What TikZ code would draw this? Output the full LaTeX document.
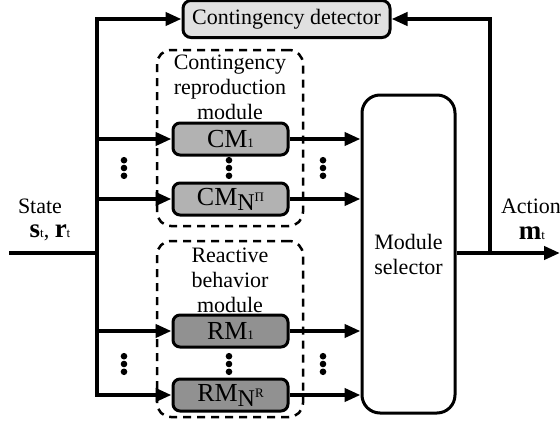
\documentclass[tikz,border=0pt]{standalone}
\usepackage{fontspec}
\setmainfont{Liberation Serif}
\usetikzlibrary{arrows.meta}

\newcommand{\smallidx}[1]{{\fontsize{13}{13}\selectfont #1}}
\newcommand{\bigidx}[2]{\raisebox{-5pt}{\fontsize{24}{24}\selectfont #1\raisebox{9pt}{\smallidx{#2}}}}
\newcommand{\boldvar}[1]{{\fontsize{27}{27}\selectfont\bfseries #1}}

\tikzset{
	modbox/.style={draw, line width=3pt, rounded corners=7pt, minimum width=115pt, minimum height=32pt, inner sep=0pt, font=\fontsize{26}{28}\selectfont},
	cmbox/.style={modbox, fill=black!30},
	rmbox/.style={modbox, fill=black!43},
	grpbox/.style={draw, line width=2.5pt, dash pattern=on 8pt off 6pt, rounded corners=14pt, minimum width=146pt, minimum height=176pt, inner sep=0pt},
	wire/.style={line width=4pt},
	arr/.style={line width=4pt, -{Triangle[length=16pt,width=13pt]}},
}

\begin{document}
\begin{tikzpicture}[x=1pt, y=-1pt, font=\fontsize{22}{25}\selectfont]
		\useasboundingbox (0,0) rectangle (560,423);

		% boxes
		\node[draw, line width=3pt, rounded corners=8pt, fill=black!12, minimum width=207pt, minimum height=37pt, inner sep=0pt] (det) at (286.5,19) {Contingency detector};
		\node[grpbox] (cgrp) at (230,138) {};
		\node[grpbox] (rgrp) at (230,329) {};
		\node[align=center, inner sep=0pt, anchor=north] (ctxt) at (230,55) {Contingency\\reproduction\\module};
		\node[align=center, inner sep=0pt, anchor=north] (rtxt) at (230,248) {Reactive\\behavior\\module};
		\node[cmbox] (cm1) at (230.5,139) {CM\smallidx{1}};
		\node[cmbox] (cmn) at (230.5,199) {CM\bigidx{N}{Π}};
		\node[rmbox] (rm1) at (230.5,331) {RM\smallidx{1}};
		\node[rmbox] (rmn) at (230.5,395) {RM\bigidx{N}{R}};
		\node[draw, line width=3pt, rounded corners=18pt, minimum width=93pt, minimum height=318pt, align=center, inner sep=0pt] (sel) at (408.5,254) {Module\\selector};

		% labels
		\node[inner sep=0pt] (state) at (40,206) {State};
		\node[inner sep=0pt] (sr) at (50,233) {\boldvar{s}\smallidx{t}, \boldvar{r}\smallidx{t}};
		\node[inner sep=0pt] (action) at (531,206) {Action};
		\node[inner sep=0pt] (mt) at (532,233) {\boldvar{m}\smallidx{t}};

		\coordinate (in) at (9,253);
		\coordinate (split) at (97,253);
		\coordinate (fb) at (490,253);
		\coordinate (out) at (560,253);

		% connectors
		\draw[wire] (in) -- (split);
		\draw[arr] (split) |- (det);
		\draw[arr] (split) |- (cm1);
		\draw[arr] (split) |- (cmn);
		\draw[arr] (split) |- (rm1);
		\draw[arr] (split) |- (rmn);
		\foreach \m in {cm1, cmn, rm1, rmn} {
			\draw[arr] (\m) -- (\m -| sel.west);
		}
		\draw[arr] (sel.east |- split) -- (out);
		\draw[arr] (fb) |- (det);

		% dots
		\foreach \px/\py in {124/168, 229/168, 323/168, 124/364, 229/364, 323/364} {
			\foreach \d in {-1,0,1}
				\fill (\px,\py+7.8*\d) circle (3.3);
		}
	\end{tikzpicture}
\end{document}
